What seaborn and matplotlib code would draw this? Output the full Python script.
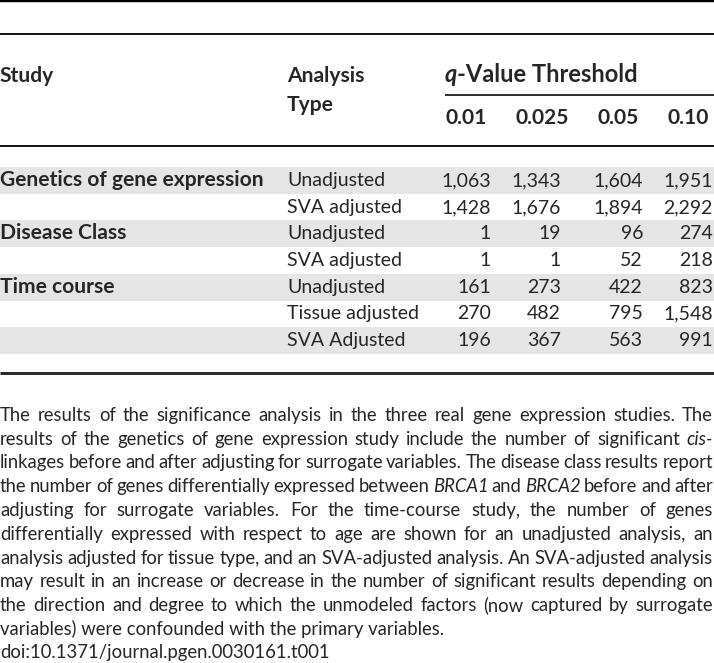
import matplotlib
matplotlib.use("Agg")
import matplotlib.pyplot as plt
import seaborn as sns
from matplotlib import font_manager

sns.set_theme(style="white")
avail = {f.name for f in font_manager.fontManager.ttflist}
FAM = "DejaVu Sans"
for cand in ["Lato", "Open Sans", "Noto Sans", "DejaVu Sans"]:
    if cand in avail:
        FAM = cand
        break
plt.rcParams['font.family'] = [FAM, 'DejaVu Sans']

# ---------------- data ----------------
studies = ["Genetics of gene expression", "", "Disease Class", "", "Time course", "", ""]
analysis_types = ["Unadjusted", "SVA adjusted", "Unadjusted", "SVA adjusted",
                  "Unadjusted", "Tissue adjusted", "SVA Adjusted"]
thresholds = ["0.01", "0.025", "0.05", "0.10"]
q_001 = [1063, 1428, 1, 1, 161, 270, 196]
q_0025 = [1343, 1676, 19, 1, 273, 482, 367]
q_005 = [1604, 1894, 96, 52, 422, 795, 563]
q_010 = [1951, 2292, 274, 218, 823, 1548, 991]
value_columns = [q_001, q_0025, q_005, q_010]

caption_lines = [
    "The results of the significance analysis in the three real gene expression studies. The",
    "results of the genetics of gene expression study include the number of significant *cis-*",
    "linkages before and after adjusting for surrogate variables. The disease class results report",
    "the number of genes differentially expressed between *BRCA1* and *BRCA2* before and after",
    "adjusting for surrogate variables. For the time-course study, the number of genes",
    "differentially expressed with respect to age are shown for an unadjusted analysis, an",
    "analysis adjusted for tissue type, and an SVA-adjusted analysis. An SVA-adjusted analysis",
    "may result in an increase or decrease in the number of significant results depending on",
    "the direction and degree to which the unmodeled factors (now captured by surrogate",
    "variables) were confounded with the primary variables.",
    "doi:10.1371/journal.pgen.0030161.t001",
]
n_justified = 9

# ---------------- figure ----------------
W, H = 714, 663
fig = plt.figure(figsize=(W / 100, H / 100), dpi=100)
ax = fig.add_axes([0, 0, 1, 1])
ax.set_xlim(0, W)
ax.set_ylim(H, 0)
ax.axis("off")
renderer = fig.canvas.get_renderer()


def text_width(s, size, weight="normal", style="normal"):
    t = ax.text(0, 0, s, fontsize=size, fontweight=weight, fontstyle=style)
    w = t.get_window_extent(renderer).width
    t.remove()
    return w


def fit_size(s, target, weight="normal"):
    base = 12.0
    return base * target / text_width(s, base, weight)


size_cap = fit_size(caption_lines[9], 444)
size_tab = fit_size("Tissue adjusted", 132)
size_bold = fit_size("Genetics of gene expression", 262, "bold")
size_hdr = fit_size("q-Value Threshold", 193, "bold")

PX = 72 / 100  # points per pixel

# rules
ax.plot([0, W], [1.2, 1.2], color="black", lw=2.4 * PX, solid_capstyle="butt")
ax.plot([0, W], [34, 34], color="black", lw=1.8 * PX, solid_capstyle="butt")
ax.plot([445, W], [95, 95], color="black", lw=1.6 * PX, solid_capstyle="butt")
ax.plot([0, W], [146, 146], color="black", lw=1.8 * PX, solid_capstyle="butt")
ax.plot([0, W], [372.5, 372.5], color="#2a2a2a", lw=3 * PX, solid_capstyle="butt")

# header
ax.text(0, 82, "Study", fontsize=size_bold, fontweight="bold", va="baseline", ha="left")
ax.text(287, 82, "Analysis", fontsize=size_bold, fontweight="bold", va="baseline", ha="left")
ax.text(287, 111, "Type", fontsize=size_bold, fontweight="bold", va="baseline", ha="left")
tq = ax.text(445, 82, "q", fontsize=size_hdr, fontweight="bold", fontstyle="italic",
             va="baseline", ha="left")
qw = tq.get_window_extent(renderer).width
ax.text(445 + qw, 82, "-Value Threshold", fontsize=size_hdr, fontweight="bold",
        va="baseline", ha="left")
thr_left = [445, 516, 597, 668]
for x, lab in zip(thr_left, thresholds):
    ax.text(x, 124, lab, fontsize=size_bold, fontweight="bold", va="baseline", ha="left")

# body rows
row_top0, row_h = 167.0, 26.7
num_right = [491, 561, 643, 713]
for i in range(len(analysis_types)):
    top = row_top0 + i * row_h
    if i % 2 == 0:
        ax.fill_between([0, W], [top, top], [top + row_h, top + row_h],
                        color="#e5e5e5", lw=0)
    base = round(top + row_h / 2 + 5.5)
    if studies[i]:
        ax.text(0, base, studies[i], fontsize=size_bold, fontweight="bold",
                va="baseline", ha="left")
    ax.text(287, base, analysis_types[i], fontsize=size_tab, va="baseline", ha="left")
    for xr, col in zip(num_right, value_columns):
        ax.text(xr, base, f"{col[i]:,}", fontsize=size_tab, va="baseline", ha="right")

# caption (justified)
cap_base0, cap_step = 421.0, 23.75
right_edge = 713
for li, line in enumerate(caption_lines):
    y = round(cap_base0 + li * cap_step)
    if li >= n_justified:
        ax.text(0, y, line, fontsize=size_cap, va="baseline", ha="left")
        continue
    words = line.split(" ")
    parts = []
    for w in words:
        ital = w.startswith("*") and w.endswith("*")
        s = w.strip("*")
        parts.append((s, ital, text_width(s, size_cap, style="italic" if ital else "normal")))
    total = sum(p[2] for p in parts)
    gap = (right_edge - total) / (len(parts) - 1)
    x = 0.0
    for s, ital, w in parts:
        ax.text(x, y, s, fontsize=size_cap, fontstyle="italic" if ital else "normal",
                va="baseline", ha="left")
        x += w + gap

fig.savefig("out.png", dpi=100)
